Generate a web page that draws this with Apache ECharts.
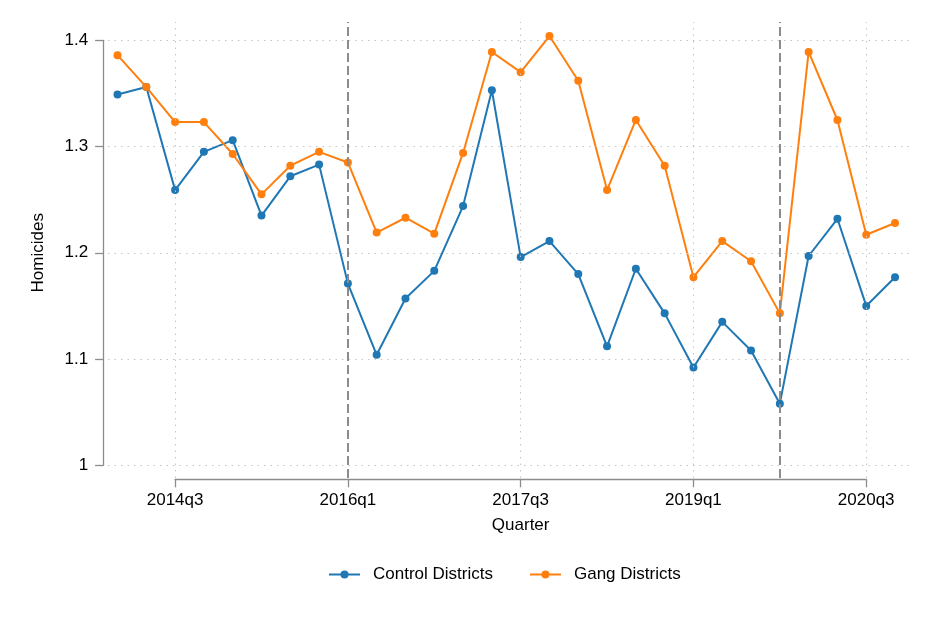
<!DOCTYPE html>
<html>
<head>
<meta charset="utf-8">
<title>Homicides by quarter</title>
<script src="https://cdn.jsdelivr.net/npm/echarts@6/dist/echarts.min.js"></script>
<style>
  html, body { margin: 0; padding: 0; background: #fff; }
  #chart { width: 931px; height: 621px; }
</style>
</head>
<body>
<div id="chart"></div>
<script>
// quarters 2014q1 .. 2020q4, x position = index
var quarters = ['2014q1', '2014q2', '2014q3', '2014q4', '2015q1', '2015q2', '2015q3', '2015q4',
  '2016q1', '2016q2', '2016q3', '2016q4', '2017q1', '2017q2', '2017q3', '2017q4',
  '2018q1', '2018q2', '2018q3', '2018q4', '2019q1', '2019q2', '2019q3', '2019q4',
  '2020q1', '2020q2', '2020q3', '2020q4'];
var control = [1.349, 1.356, 1.259, 1.295, 1.306, 1.235, 1.272, 1.283,
  1.171, 1.104, 1.157, 1.183, 1.244, 1.353, 1.196, 1.211,
  1.180, 1.112, 1.185, 1.143, 1.092, 1.135, 1.108, 1.058,
  1.197, 1.232, 1.150, 1.177];
var gang = [1.386, 1.356, 1.323, 1.323, 1.293, 1.255, 1.282, 1.295,
  1.285, 1.219, 1.233, 1.218, 1.294, 1.389, 1.370, 1.404,
  1.362, 1.259, 1.325, 1.282, 1.177, 1.211, 1.192, 1.143,
  1.389, 1.325, 1.217, 1.228];
var xTicks = [2, 8, 14, 20, 26];          // 2014q3, 2016q1, 2017q3, 2019q1, 2020q3
var yTicks = [1, 1.1, 1.2, 1.3, 1.4];
var eventLines = [8, 23];                 // 2016q1, 2019q4

var font = '"Liberation Sans", Arial, sans-serif';
var axisGray = '#8c8c8c';
var blue = '#1f77b4', orange = '#ff7f0e';

function toPairs(arr) {
  return arr.map(function (v, i) { return [i, v]; });
}

var chart = echarts.init(document.getElementById('chart'));

var gridMarks = [];
yTicks.forEach(function (v) {
  gridMarks.push({ yAxis: v, lineStyle: { color: '#c4c4c4', type: [1.5, 5], width: 1 } });
});
xTicks.forEach(function (v) {
  gridMarks.push({ xAxis: v, lineStyle: { color: '#c4c4c4', type: [1.5, 5], width: 1 } });
});
eventLines.forEach(function (v) {
  gridMarks.push({ xAxis: v, lineStyle: { color: '#8c8c8c', type: [9, 4], width: 2 } });
});

var option = {
  animation: false,
  backgroundColor: '#ffffff',
  textStyle: { fontFamily: font },
  // grid 0: plot region holding the data, grid 1: the offset axes
  grid: [
    { left: 108, right: 21, top: 22, bottom: 143 },
    { left: 175.1, right: 64.8, top: 40.3, bottom: 155.7 }
  ],
  legend: {
    data: ['Control Districts', 'Gang Districts'],
    left: 328,
    top: 566,
    padding: 0,
    itemWidth: 31,
    itemHeight: 10,
    itemGap: 36,
    textStyle: { fontSize: 17, color: '#000', fontFamily: font, padding: [0, 0, 0, 8] }
  },
  xAxis: [
    { gridIndex: 0, type: 'value', min: -0.33, max: 27.52, show: false },
    {
      gridIndex: 1, type: 'value', min: 2, max: 26, interval: 6, offset: 14,
      name: 'Quarter', nameLocation: 'middle', nameGap: 38,
      nameTextStyle: { fontSize: 17, color: '#000', fontFamily: font },
      axisLine: { show: true, lineStyle: { color: axisGray, width: 1.3 } },
      axisTick: { show: true, length: 8, lineStyle: { color: axisGray, width: 1.3 } },
      axisLabel: {
        margin: 13, fontSize: 17, color: '#000', fontFamily: font,
        formatter: function (v) { return quarters[v]; }
      },
      splitLine: { show: false }
    }
  ],
  yAxis: [
    { gridIndex: 0, type: 'value', min: 0.98805, max: 1.41722, show: false },
    {
      gridIndex: 1, type: 'value', min: 1, max: 1.4, interval: 0.1, offset: 72,
      name: 'Homicides', nameLocation: 'middle', nameGap: 56,
      nameTextStyle: { fontSize: 17, color: '#000', fontFamily: font },
      axisLine: { show: true, lineStyle: { color: axisGray, width: 1.3 } },
      axisTick: { show: true, length: 8, lineStyle: { color: axisGray, width: 1.3 } },
      axisLabel: {
        margin: 15, fontSize: 17, color: '#000', fontFamily: font,
        formatter: function (v) { return String(+v.toFixed(1)); }
      },
      splitLine: { show: false }
    }
  ],
  series: [
    {
      name: 'grid',
      type: 'line',
      xAxisIndex: 0, yAxisIndex: 0,
      data: [],
      z: 1,
      silent: true,
      markLine: {
        silent: true,
        symbol: 'none',
        label: { show: false },
        animation: false,
        data: gridMarks
      }
    },
    {
      name: 'Control Districts',
      type: 'line',
      xAxisIndex: 0, yAxisIndex: 0,
      data: toPairs(control),
      symbol: 'circle',
      symbolSize: 8,
      itemStyle: { color: blue },
      lineStyle: { width: 2, color: blue },
      z: 3
    },
    {
      name: 'Gang Districts',
      type: 'line',
      xAxisIndex: 0, yAxisIndex: 0,
      data: toPairs(gang),
      symbol: 'circle',
      symbolSize: 8,
      itemStyle: { color: orange },
      lineStyle: { width: 2, color: orange },
      z: 3
    }
  ]
};

chart.setOption(option);
</script>
</body>
</html>
